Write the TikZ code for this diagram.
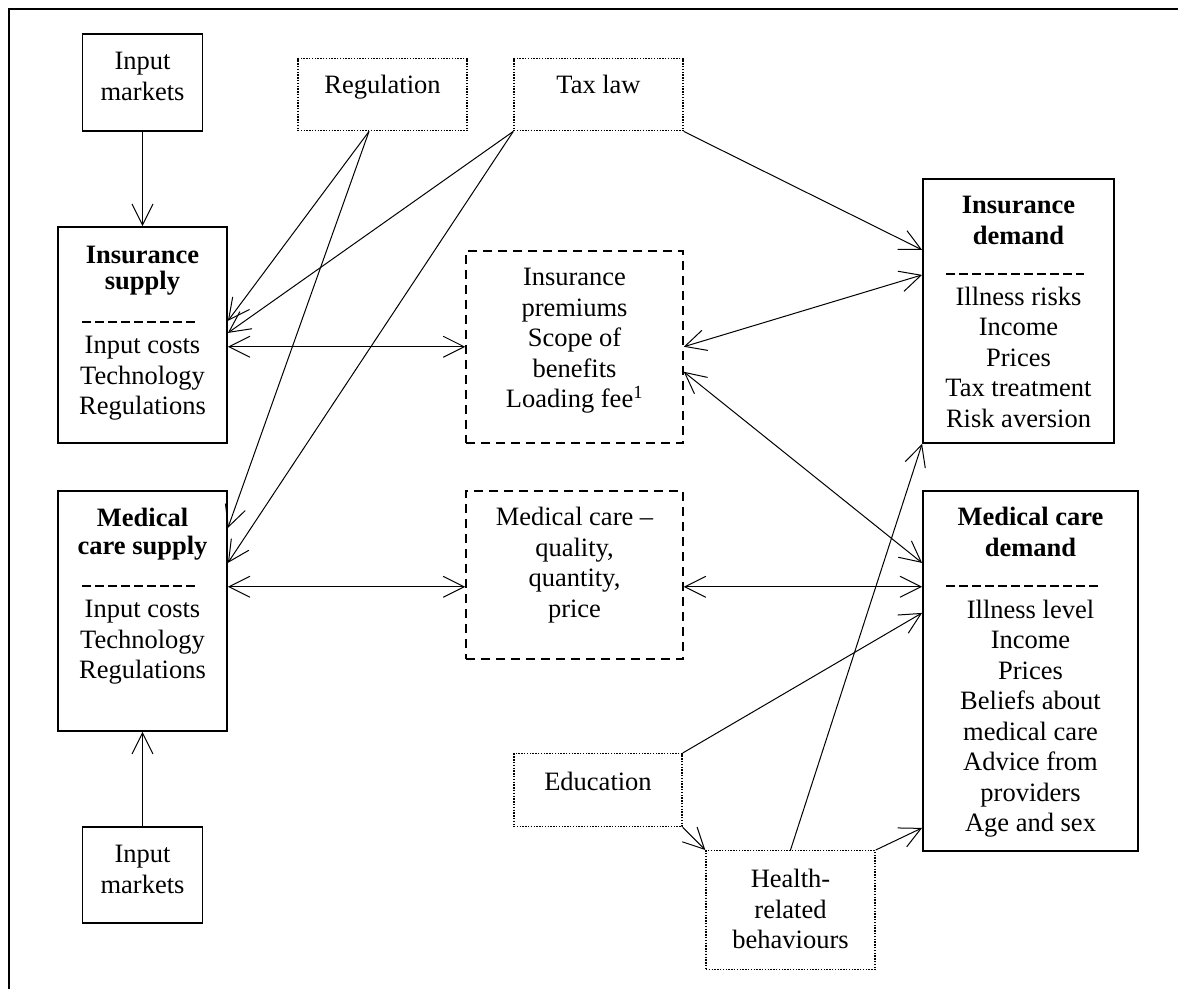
\documentclass[tikz,border=0pt]{standalone}
\usepackage{fontspec}
\setmainfont{Liberation Serif}
\usetikzlibrary{arrows.meta}

\begin{document}
\begin{tikzpicture}[
    x=1pt, y=-1pt,
    % Common box: text placed by its first baseline
    box/.style={
        rectangle, anchor=north, align=flush center,
        inner xsep=0pt, inner ysep=0pt,
        font=\fontsize{26.5}{30.5}\selectfont
    },
    % Markets, supply and demand: solid border
    solidbox/.style={box, draw=black, line width=1.8pt},
    % Market outcomes: dashed border
    dashbox/.style={box, draw=black, line width=1.5pt, dash pattern=on 9pt off 6pt},
    % Outside factors: dotted border
    dotbox/.style={box, draw=black, line width=1.4pt, dash pattern=on 1.4pt off 1.4pt},
    % Dashed rule under a box title
    sepline/.style={line width=2pt, dash pattern=on 8.5pt off 4.5pt},
    % Connectors
    flow/.style={line width=1pt, -{Straight Barb[length=21pt, width=21pt]}},
    flowtwo/.style={line width=1pt,
        {Straight Barb[length=21pt, width=21pt]}-{Straight Barb[length=21pt, width=21pt]}},
]
\useasboundingbox (0,0) rectangle (1178,989);

% Frame (top and left only)
\draw[line width=2.2pt] (8,9) -- (1178,9);
\draw[line width=1.4pt] (9,9) -- (9,989);

% ============================================================
% LEFT COLUMN: markets and supply
% ============================================================
\node[solidbox, text width=120pt, text height=36pt, text depth=61pt] (im-top) at (142.5,33) {Input\\markets};

\node[solidbox, text width=169pt, text height=37pt, text depth=179pt] (ins-sup) at (142.5,226)
    {\textbf{Insurance}\\[-4.5pt]\textbf{supply}\\[33.5pt]Input costs\\Technology\\Regulations};

\node[solidbox, text width=169pt, text height=35.5pt, text depth=204.5pt] (med-sup) at (142.5,490)
    {\textbf{Medical}\\[-2pt]\textbf{care supply}\\[32.5pt]Input costs\\Technology\\Regulations};

\node[solidbox, text width=120pt, text height=36pt, text depth=60pt] (im-bot) at (142.5,826) {Input\\markets};

% ============================================================
% MIDDLE: outside factors and outcomes
% ============================================================
\node[dotbox, text width=169pt, text height=35pt, text depth=37pt] (reg) at (382.5,58) {Regulation};
\node[dotbox, text width=169pt, text height=35pt, text depth=37pt] (tax) at (598.5,58) {Tax law};

\node[dashbox, text width=217pt, text height=35pt, text depth=157pt] (prem) at (574.5,250)
    {Insurance\\premiums\\Scope of\\benefits\\Loading fee\textsuperscript{1}};

\node[dashbox, text width=217pt, text height=35pt, text depth=133pt] (care) at (574.5,490)
    {Medical care --\\quality,\\quantity,\\price};

\node[dotbox, text width=168pt, text height=37pt, text depth=36pt] (edu) at (598,753) {Education};
\node[dotbox, text width=169pt, text height=37pt, text depth=82pt] (health) at (790.5,850)
    {Health-\\related\\behaviours};

% ============================================================
% RIGHT COLUMN: demand
% ============================================================
\node[solidbox, text width=191pt, text height=35pt, text depth=229pt] (ins-dem) at (1018.5,178)
    {\textbf{Insurance}\\\textbf{demand}\\[30.5pt]Illness risks\\Income\\Prices\\Tax treatment\\Risk aversion};

\node[solidbox, text width=215pt, text height=35pt, text depth=325pt] (med-dem) at (1030.5,490)
    {\textbf{Medical care}\\\textbf{demand}\\[31.5pt]Illness level\\Income\\Prices\\Beliefs about\\medical care\\Advice from\\providers\\Age and sex};

% Dashed rules under the titles
\draw[sepline] (82,322) -- (198,322);
\draw[sepline] (82,586) -- (198,586);
\draw[sepline] (946,274) -- (1084,274);
\draw[sepline] (946,586) -- (1102,586);

% ============================================================
% CONNECTORS
% ============================================================
\draw[flow] (im-top.south) -- (ins-sup.north);
\draw[flow] (im-bot.north) -- (med-sup.south);

\draw[flow] ([xshift=-13.5pt]reg.south) -- ([yshift=14pt]ins-sup.east);
\draw[flow] ([xshift=-13.5pt]reg.south) -- ([yshift=83pt]med-sup.east);
\draw[flow] (tax.south west) -- ([yshift=2pt]ins-sup.east);
\draw[flow] (tax.south west) -- ([yshift=48pt]med-sup.east);
\draw[flow] (tax.south east) -- ([yshift=61pt]ins-dem.west);

\draw[flowtwo] (ins-sup.east |- prem.west) -- (prem.west);
\draw[flowtwo] (prem.east) -- ([yshift=36pt]ins-dem.west);
\draw[flowtwo] ([yshift=-25pt]prem.east) -- ([yshift=108pt]med-dem.west);

\coordinate (care-l) at ([yshift=-12pt]care.west);
\coordinate (care-r) at ([yshift=-12pt]care.east);
\draw[flowtwo] (med-sup.east |- care-l) -- (care-l);
\draw[flowtwo] (care-r) -- (med-dem.west |- care-r);

\draw[flow] (edu.north east) -- ([yshift=58pt]med-dem.west);
\draw[flow] (edu.south east) -- (health.north west);
\draw[flow] (health.north east) -- ([yshift=-157pt]med-dem.west);
\draw[flow] (health.north) -- (ins-dem.south west);

\end{tikzpicture}
\end{document}
